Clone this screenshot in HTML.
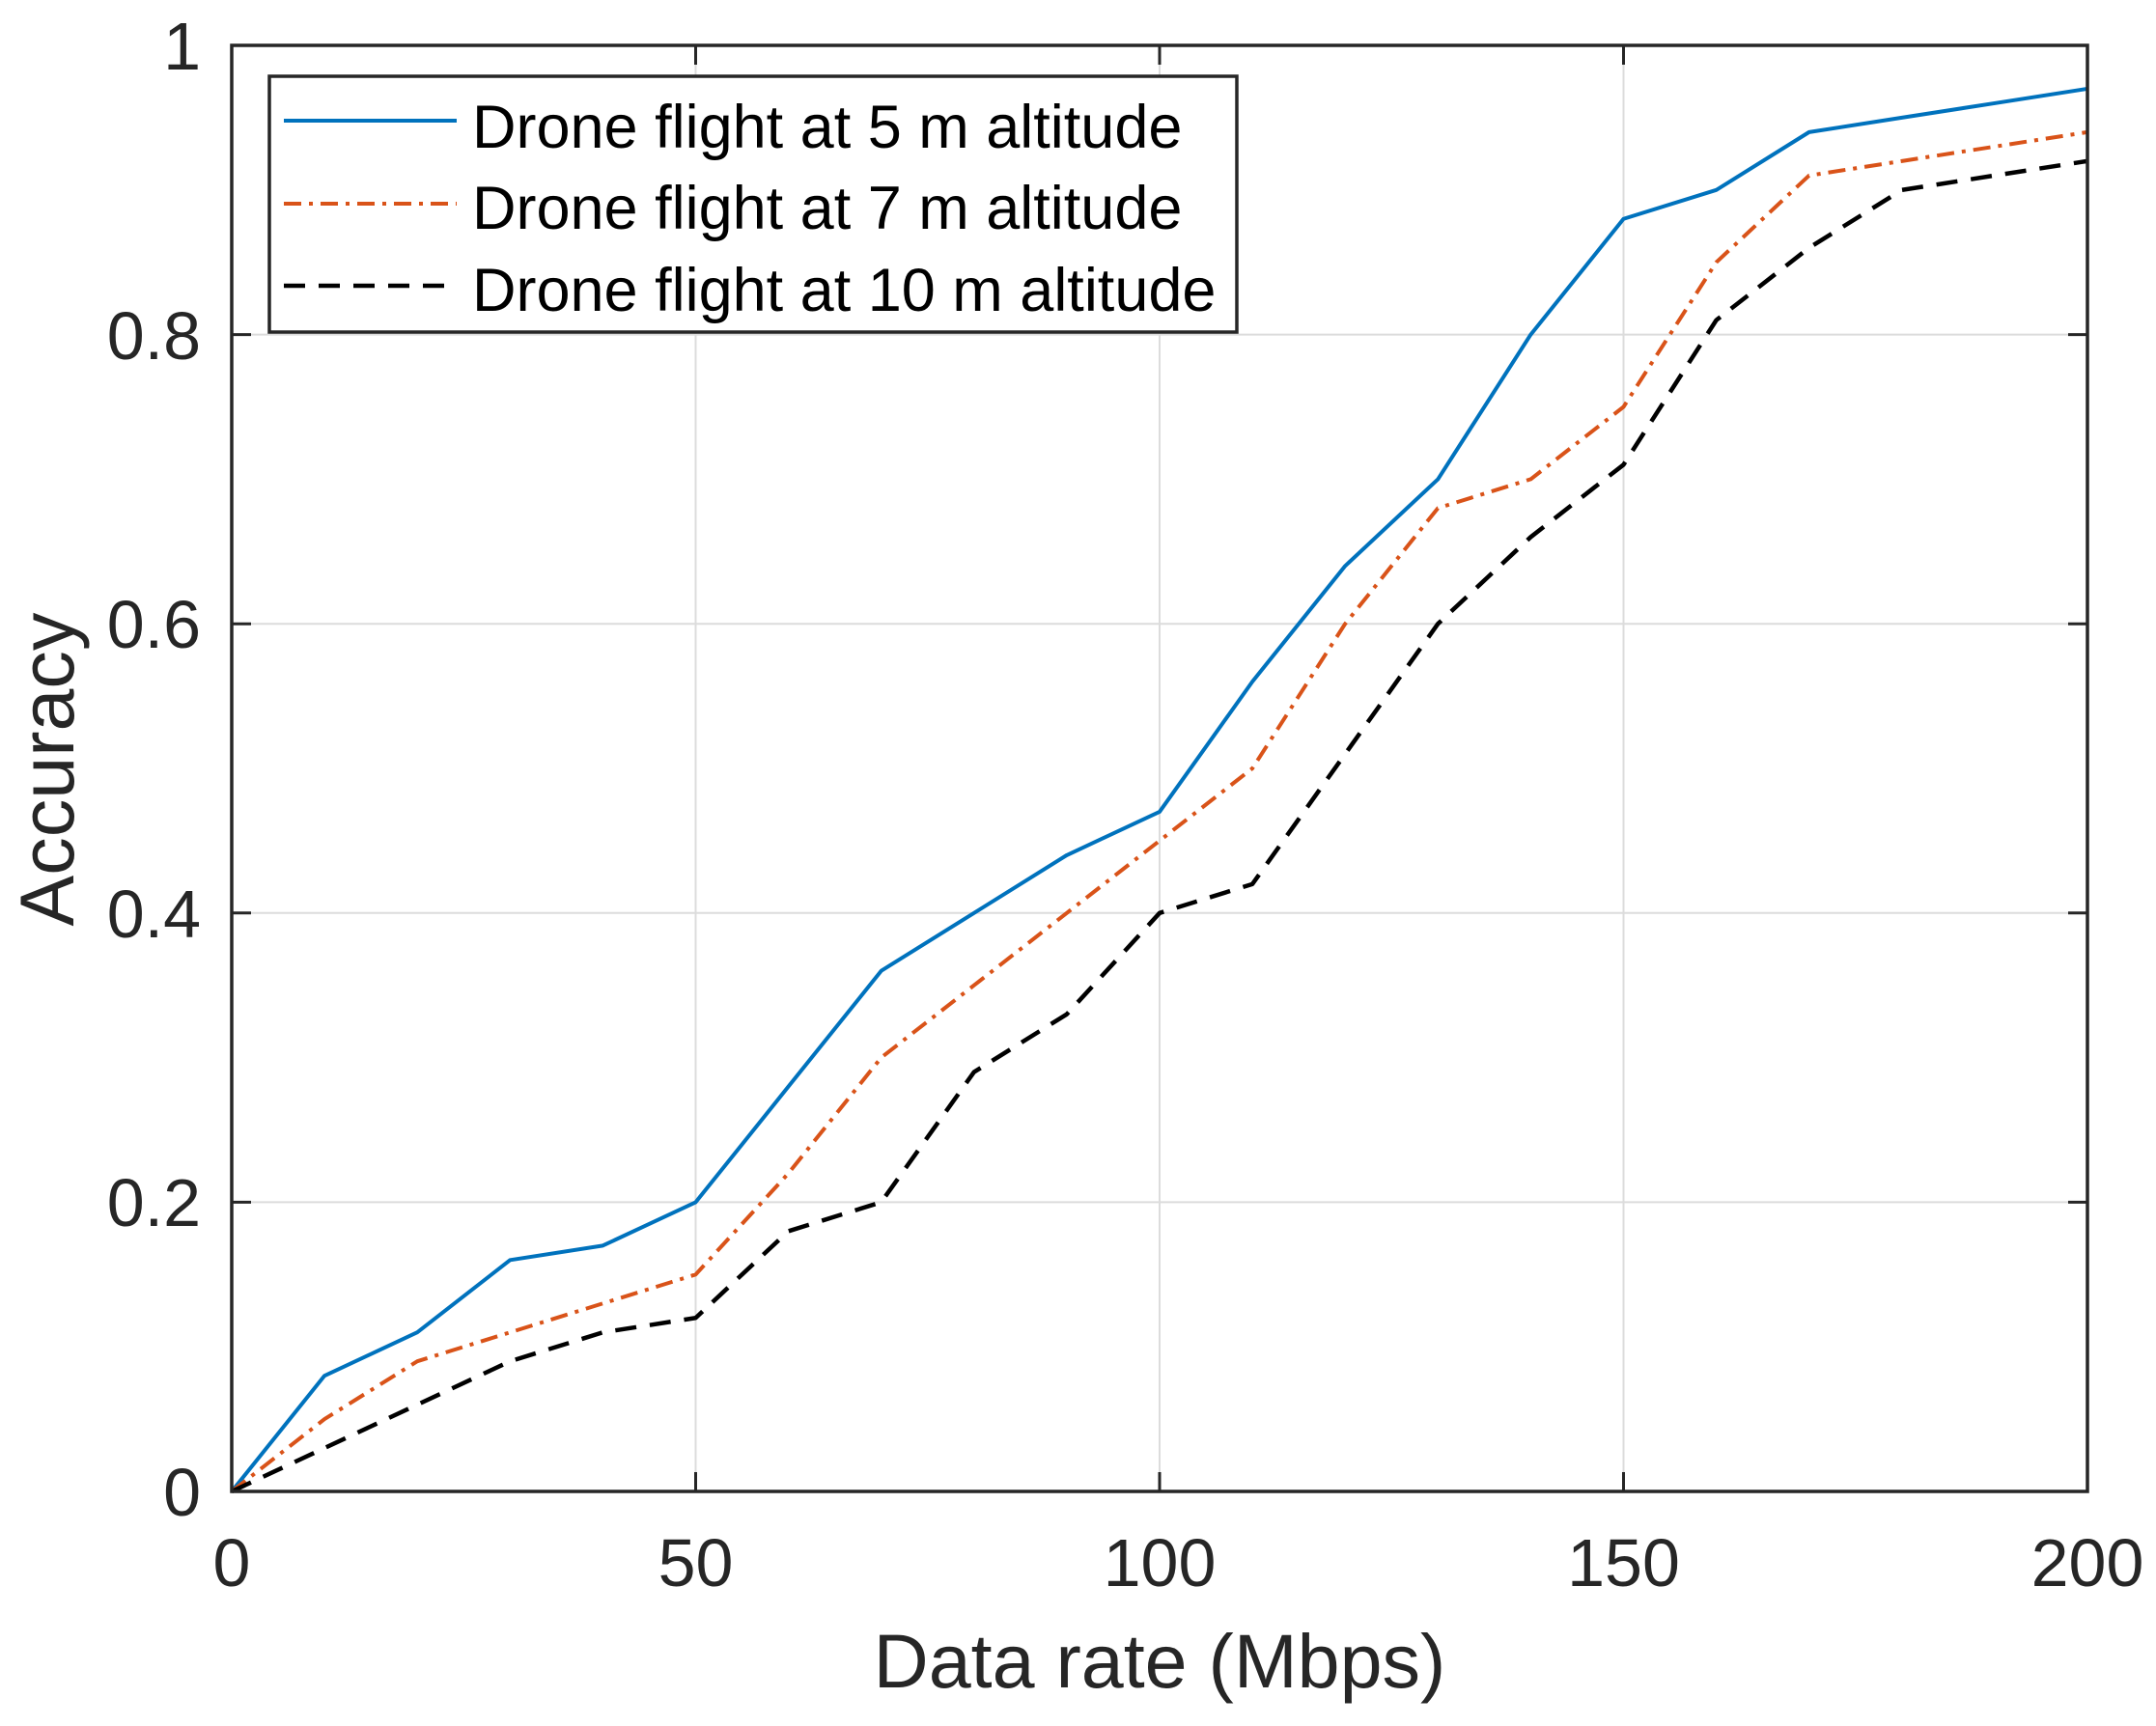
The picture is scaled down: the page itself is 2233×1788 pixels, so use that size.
<!DOCTYPE html>
<html><head><meta charset="utf-8"><style>
html,body{margin:0;padding:0;background:#fff;}
svg{display:block;font-family:"Liberation Sans",Arial,sans-serif;}
</style></head><body>
<svg width="2233" height="1788" viewBox="0 0 2233 1788" xmlns="http://www.w3.org/2000/svg">
<rect width="2233" height="1788" fill="#fff"/>
<g stroke="#dcdcdc" stroke-width="2">
<line x1="720.5" y1="47" x2="720.5" y2="1545"/>
<line x1="1201" y1="47" x2="1201" y2="1545"/>
<line x1="1681.5" y1="47" x2="1681.5" y2="1545"/>
<line x1="240" y1="1245.4" x2="2162" y2="1245.4"/>
<line x1="240" y1="945.8" x2="2162" y2="945.8"/>
<line x1="240" y1="646.2" x2="2162" y2="646.2"/>
<line x1="240" y1="346.6" x2="2162" y2="346.6"/>
</g>
<g stroke="#262626" stroke-width="3">
<line x1="720.5" y1="1545" x2="720.5" y2="1525"/><line x1="1201" y1="1545" x2="1201" y2="1525"/><line x1="1681.5" y1="1545" x2="1681.5" y2="1525"/>
<line x1="720.5" y1="47" x2="720.5" y2="67"/><line x1="1201" y1="47" x2="1201" y2="67"/><line x1="1681.5" y1="47" x2="1681.5" y2="67"/>
<line x1="240" y1="1245.4" x2="260" y2="1245.4"/><line x1="240" y1="945.8" x2="260" y2="945.8"/><line x1="240" y1="646.2" x2="260" y2="646.2"/><line x1="240" y1="346.6" x2="260" y2="346.6"/>
<line x1="2162" y1="1245.4" x2="2142" y2="1245.4"/><line x1="2162" y1="945.8" x2="2142" y2="945.8"/><line x1="2162" y1="646.2" x2="2142" y2="646.2"/><line x1="2162" y1="346.6" x2="2142" y2="346.6"/>
</g>
<g transform="translate(240,1545) scale(9.61,-1498)" fill="none" stroke-linejoin="round">
<polyline vector-effect="non-scaling-stroke" stroke="#0072bd" stroke-width="4" points="0,0 10,.08 20,.11 30,.16 40,.17 50,.2 60,.28 70,.36 80,.4 90,.44 100,.47 110,.56 120,.64 130,.7 140,.8 150,.88 160,.9 170,.94 180,.95 190,.96 200,.97"/>
<polyline vector-effect="non-scaling-stroke" stroke="#d95319" stroke-width="4" stroke-dasharray="18 8 4 8" points="0,0 10,.05 20,.09 30,.11 40,.13 50,.15 60,.22 70,.3 80,.35 90,.4 100,.45 110,.5 120,.6 130,.68 140,.7 150,.75 160,.85 170,.91 180,.92 190,.93 200,.94"/>
<polyline vector-effect="non-scaling-stroke" stroke="#000" stroke-width="4.5" stroke-dasharray="22 14" points="0,0 10,.03 20,.06 30,.09 40,.11 50,.12 60,.18 70,.2 80,.29 90,.33 100,.4 110,.42 120,.51 130,.6 140,.66 150,.71 160,.81 170,.86 180,.9 190,.91 200,.92"/>
</g>
<rect x="240" y="47" width="1922" height="1498" fill="none" stroke="#262626" stroke-width="3.5"/>
<g font-size="70" fill="#262626">
<g text-anchor="middle">
<text x="240" y="1643">0</text><text x="720.5" y="1643">50</text><text x="1201" y="1643">100</text><text x="1681.5" y="1643">150</text><text x="2162" y="1643">200</text>
</g>
<g text-anchor="end">
<text x="208" y="1570">0</text><text x="208" y="1270">0.2</text><text x="208" y="971">0.4</text><text x="208" y="671">0.6</text><text x="208" y="372">0.8</text><text x="208" y="72">1</text>
</g>
</g>
<text x="1201" y="1748" font-size="79" text-anchor="middle" fill="#262626">Data rate (Mbps)</text>
<text transform="translate(76,797) rotate(-90)" font-size="79" text-anchor="middle" fill="#262626">Accuracy</text>
<rect x="279" y="79" width="1002" height="265" fill="#fff" stroke="#262626" stroke-width="3.5"/>
<line x1="294" y1="125" x2="473" y2="125" stroke="#0072bd" stroke-width="4"/>
<line x1="294" y1="211" x2="473" y2="211" stroke="#d95319" stroke-width="4" stroke-dasharray="18 8 4 8"/>
<line x1="294" y1="296" x2="473" y2="296" stroke="#000" stroke-width="4.5" stroke-dasharray="22 14"/>
<g font-size="63" fill="#000">
<text x="489" y="153">Drone flight at 5 m altitude</text>
<text x="489" y="237">Drone flight at 7 m altitude</text>
<text x="489" y="322">Drone flight at 10 m altitude</text>
</g>
</svg>
</body></html>
